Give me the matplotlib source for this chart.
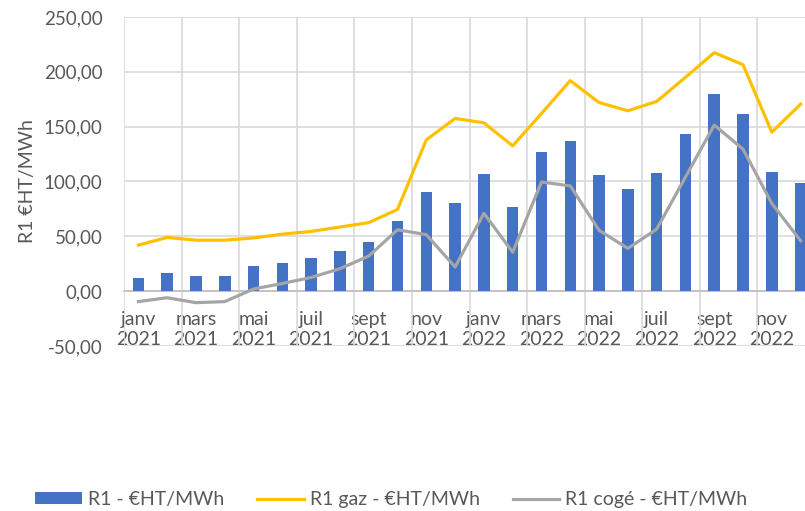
import matplotlib
matplotlib.use("Agg")
import matplotlib.pyplot as plt
import numpy as np

plt.rcParams['font.family'] = ['Lato', 'DejaVu Sans']

# Monthly R1 values, janv 2021 -> déc 2022
months = ["janv", "févr", "mars", "avr", "mai", "juin",
          "juil", "août", "sept", "oct", "nov", "déc"]
years = ["2021", "2022"]

r1 = [12, 17, 14, 14, 23, 26, 30, 37, 45, 64, 90, 80,
      107, 77, 127, 137, 106, 93, 108, 143, 180, 162, 109, 99]
r1_gaz = [42, 49, 46.5, 46.5, 48.5, 52, 54.5, 58.5, 62.5, 74.5, 138, 157.5,
          153.5, 132.5, 162, 192, 172, 164.5, 173, 195, 217.5, 206.5, 145, 170.5]
r1_coge = [-9.5, -6, -10.5, -9.5, 2, 7, 12.5, 20.5, 32, 56, 51.5, 22,
           71, 35.5, 99.5, 96, 55.5, 39, 56.5, 104, 151.5, 129.5, 80, 46]

y_ticks = [-50, 0, 50, 100, 150, 200, 250]

labels = [f"{m} {y}" for y in years for m in months]
x = np.arange(len(labels))

blue = "#4472C4"
gold = "#FFC000"
grey = "#A5A5A5"
text_col = "#595959"
grid_col = "#D9D9D9"

fig = plt.figure(figsize=(8.05, 5.11), dpi=100)
ax = fig.add_axes([124 / 805, 165 / 511, 691 / 805, 329 / 511])

h_bar = ax.bar(x, r1, width=0.4, color=blue, zorder=3, label="R1 - €HT/MWh")
h_gaz, = ax.plot(x, r1_gaz, color=gold, lw=2.3, zorder=4, label="R1 gaz - €HT/MWh")
h_coge, = ax.plot(x, r1_coge, color=grey, lw=2.3, zorder=4, label="R1 cogé - €HT/MWh")

ax.set_xlim(-0.5, len(x) - 0.5)
ax.set_ylim(-50, 250)
ax.set_yticks(y_ticks)
ax.set_yticklabels([f"{v:.2f}".replace(".", ",") for v in y_ticks])

# category labels every second month, two lines
ax.set_xticks(x[::2])
ax.set_xticklabels([l.replace(" ", "\n") for l in labels[::2]],
                   ha="center", multialignment="center", linespacing=1.6)
ax.set_xticks(np.arange(-0.5, len(x), 2), minor=True)

ax.grid(axis="y", color=grid_col, lw=1.2, zorder=0)
ax.grid(axis="x", which="minor", color=grid_col, lw=1.2, zorder=0)
ax.tick_params(axis="both", which="both", length=0, colors=text_col)
ax.tick_params(axis="y", pad=15.5, labelsize=13.5)
ax.tick_params(axis="x", pad=14.5, labelsize=14)

for s in ["top", "right", "left"]:
    ax.spines[s].set_visible(False)
ax.spines["bottom"].set_position(("data", 0))
ax.spines["bottom"].set_color("#BFBFBF")
ax.spines["bottom"].set_linewidth(1.2)
ax.spines["bottom"].set_zorder(2)

ax.set_ylabel("R1 €HT/MWh", color=text_col, fontsize=14)
ax.yaxis.set_label_coords((36 - 124) / 691, 0.5)

fig.legend(handles=[h_bar, h_gaz, h_coge], loc="center",
           bbox_to_anchor=(0.486, 0.022), ncol=3, frameon=False,
           fontsize=14, labelcolor=text_col, handlelength=2.4, handleheight=0.58,
           columnspacing=1.7, handletextpad=0.3)

fig.savefig("out.png", dpi=100)
